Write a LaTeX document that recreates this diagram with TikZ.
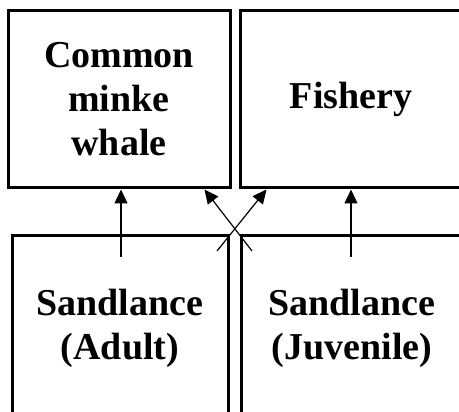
\documentclass[tikz,border=0pt]{standalone}
\usepackage{fontspec}
\setmainfont{Liberation Serif}
\usetikzlibrary{arrows.meta}
\begin{document}
\begin{tikzpicture}[x=1pt, y=-1pt,
		box/.style={draw, line width=3pt, inner sep=0pt, align=center,
			font=\fontsize{38}{44}\selectfont\bfseries},
		link/.style={line width=1.2pt, -{Triangle[length=14pt, width=13pt]}}]
		\useasboundingbox (0,0) rectangle (459,412);
		\node[box, minimum width=222pt, minimum height=177pt] (whale) at (119,99.5)
			{Common\\minke\\whale};
		\node[box, minimum width=222pt, minimum height=177pt] (fishery) at (351,99.5)
			{Fishery};
		\node[box, minimum width=216pt, minimum height=184pt] (adult) at (120,328)
			{Sandlance\\(Adult)};
		\node[box, minimum width=222pt, minimum height=184pt] (juvenile) at (352,328)
			{Sandlance\\(Juvenile)};
		% tails of the arrows
		\coordinate (adultUp) at (121,257);
		\coordinate (juvUp) at (351,257);
		\coordinate (adultX) at (217,251);
		\coordinate (juvX) at (252,251);
		% heads of the crossing arrows
		\coordinate (whaleIn) at ([xshift=-27pt]whale.south east);
		\coordinate (fishIn) at ([xshift=28pt]fishery.south west);
		\foreach\a/\b in{adultUp/adultUp |- whale.south, juvUp/juvUp |- fishery.south,
			adultX/fishIn, juvX/whaleIn}{
			\draw[link] (\a) -- (\b);
		}
	\end{tikzpicture}
\end{document}
